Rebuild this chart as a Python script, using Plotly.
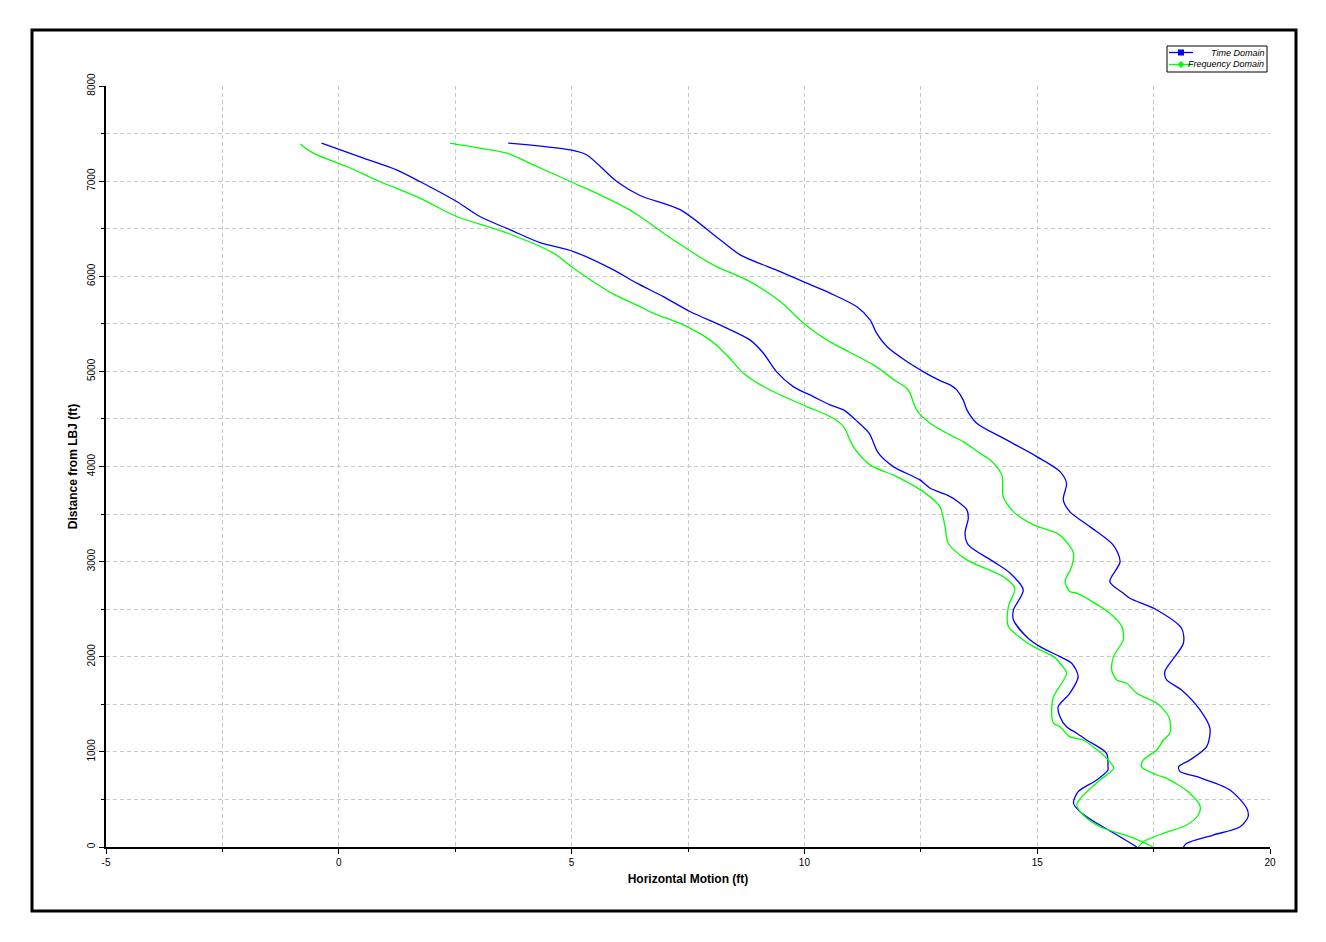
import plotly.graph_objects as go

# Time Domain - lower envelope
td_low_y = [7400, 7242, 7119, 6996, 6786, 6628, 6488, 6354, 6260, 6067, 5927, 5786, 5629, 5471, 5331, 5191,
            4998, 4840, 4735, 4648, 4595, 4490, 4350, 4140, 3999, 3859, 3772, 3701, 3630, 3544, 3456, 3299,
            3176, 3000, 2878, 2702, 2492, 2387, 2211, 2106, 2001, 1932, 1791, 1616, 1475, 1370, 1265, 1196,
            1125, 985, 844, 810, 705, 582, 460, 371, 249, 108, 0]
td_low_x = [-0.37, 0.53, 1.24, 1.74, 2.53, 3.03, 3.68, 4.32, 5.04, 5.90, 6.40, 6.97, 7.54, 8.26, 8.83, 9.12,
            9.40, 9.76, 10.19, 10.55, 10.84, 11.10, 11.39, 11.59, 11.91, 12.48, 12.70, 13.06, 13.30, 13.49, 13.52, 13.45,
            13.52, 14.06, 14.42, 14.70, 14.49, 14.49, 14.77, 15.06, 15.49, 15.74, 15.88, 15.70, 15.45, 15.49, 15.63, 15.85,
            16.06, 16.49, 16.52, 16.52, 16.28, 15.88, 15.78, 15.92, 16.28, 16.78, 17.14]

# Time Domain - upper envelope
td_up_y = [7400, 7329, 7277, 6996, 6849, 6700, 6383, 6225, 6049, 5927, 5822, 5681, 5541, 5402, 5261, 5103,
           4998, 4911, 4858, 4805, 4700, 4595, 4455, 4298, 4104, 3946, 3824, 3649, 3526, 3368, 3176, 3000,
           2790, 2668, 2615, 2492, 2300, 2142, 1843, 1756, 1651, 1440, 1248, 1055, 915, 844, 792, 739,
           599, 407, 319, 213, 126, 39, 0]
td_up_x = [3.64, 4.97, 5.32, 5.97, 6.47, 7.33, 8.19, 8.62, 9.48, 10.05, 10.55, 11.12, 11.41, 11.55, 11.77, 12.20,
           12.55, 12.88, 13.13, 13.27, 13.41, 13.49, 13.70, 14.27, 14.99, 15.49, 15.63, 15.56, 15.70, 16.13, 16.63, 16.78,
           16.56, 16.85, 16.99, 17.57, 18.10, 18.14, 17.74, 17.78, 18.10, 18.50, 18.71, 18.64, 18.28, 18.04, 18.07, 18.43,
           19.14, 19.50, 19.53, 19.36, 18.78, 18.21, 18.14]

# Frequency Domain - lower envelope
fd_low_y = [7390, 7294, 7154, 6996, 6821, 6628, 6470, 6243, 6085, 5812, 5681, 5612, 5489, 5331, 5173, 4981,
            4823, 4630, 4525, 4420, 4209, 4017, 3894, 3736, 3578, 3368, 3193, 3018, 2842, 2720, 2527, 2317,
            2177, 2106, 2001, 1932, 1826, 1580, 1440, 1301, 1265, 1160, 1125, 933, 828, 705, 529, 442,
            336, 213, 108, 0]
fd_low_x = [-0.83, -0.55, 0.17, 0.88, 1.74, 2.53, 3.53, 4.61, 5.04, 5.90, 6.47, 6.75, 7.40, 7.97, 8.33, 8.69,
            9.19, 10.05, 10.55, 10.84, 11.05, 11.41, 11.98, 12.55, 12.91, 13.02, 13.09, 13.49, 14.27, 14.52, 14.38, 14.38,
            14.70, 14.92, 15.35, 15.49, 15.63, 15.35, 15.31, 15.35, 15.49, 15.70, 15.99, 16.49, 16.64, 16.35, 15.96, 15.85,
            15.99, 16.35, 16.99, 17.49]

# Frequency Domain - upper envelope
fd_up_y = [7400, 7347, 7294, 7171, 6996, 6856, 6716, 6628, 6383, 6120, 5944, 5734, 5507, 5331, 5068, 4893,
           4823, 4771, 4595, 4455, 4314, 4262, 4140, 4069, 3912, 3684, 3526, 3386, 3299, 3246, 3088, 2947,
           2790, 2685, 2668, 2457, 2317, 2247, 2177, 2001, 1861, 1756, 1721, 1616, 1511, 1406, 1335, 1196,
           1125, 1020, 915, 844, 757, 722, 565, 424, 336, 231, 144, 56, 0]
fd_up_x = [2.39, 3.03, 3.61, 4.18, 4.97, 5.61, 6.18, 6.47, 7.18, 8.04, 8.83, 9.48, 9.98, 10.48, 11.48, 11.98,
           12.20, 12.27, 12.41, 12.70, 13.20, 13.41, 13.77, 13.99, 14.24, 14.27, 14.49, 14.92, 15.42, 15.56, 15.78, 15.74,
           15.60, 15.70, 15.85, 16.56, 16.82, 16.85, 16.85, 16.64, 16.60, 16.71, 16.92, 17.14, 17.57, 17.78, 17.85, 17.85,
           17.71, 17.57, 17.28, 17.24, 17.57, 17.78, 18.28, 18.50, 18.46, 18.21, 17.71, 17.28, 17.17]

series_names = ["Time Domain", "Frequency Domain"]
x_tick_vals = [-5, 0, 5, 10, 15, 20]
y_tick_vals = [0, 1000, 2000, 3000, 4000, 5000, 6000, 7000, 8000]

BLUE = "#0000ff"
GREEN = "#00ff00"
GRID = "#c8c8c8"

fig = go.Figure()

fig.add_trace(go.Scatter(x=td_low_x + [None] + td_up_x, y=td_low_y + [None] + td_up_y, name=series_names[0],
                         mode="lines", line=dict(color=BLUE, width=1.3, shape="spline", smoothing=0.8),
                         showlegend=False, connectgaps=False))
fig.add_trace(go.Scatter(x=fd_low_x + [None] + fd_up_x, y=fd_low_y + [None] + fd_up_y, name=series_names[1],
                         mode="lines", line=dict(color=GREEN, width=1.3, shape="spline", smoothing=0.8),
                         showlegend=False, connectgaps=False))

axis_font = dict(family="Arial, Liberation Sans, sans-serif", size=10, color="#000000")
title_font = dict(family="Arial, Liberation Sans, sans-serif", size=12, color="#000000", weight="bold")

fig.update_xaxes(range=[-5, 20], tickmode="array", tickvals=x_tick_vals,
                 ticktext=[str(v) for v in x_tick_vals],
                 showline=True, linecolor="black", linewidth=2, mirror=False,
                 ticks="outside", ticklen=5, tickwidth=1, tickcolor="black",
                 showgrid=True, gridcolor=GRID, gridwidth=1, griddash="4px,3px",
                 minor=dict(dtick=2.5, tick0=-5, ticks="outside", ticklen=3, tickcolor="black",
                            showgrid=True, gridcolor=GRID, griddash="4px,3px"),
                 zeroline=False, tickfont=axis_font,
                 title=dict(text="Horizontal Motion (ft)", font=title_font, standoff=8))
fig.update_yaxes(range=[0, 8000], tickmode="array", tickvals=y_tick_vals,
                 ticktext=[str(v) for v in y_tick_vals], tickangle=-90,
                 showline=True, linecolor="black", linewidth=2, mirror=False,
                 ticks="outside", ticklen=5, tickwidth=1, tickcolor="black",
                 showgrid=True, gridcolor=GRID, gridwidth=1, griddash="4px,3px",
                 minor=dict(dtick=500, tick0=0, ticks="outside", ticklen=3, tickcolor="black",
                            showgrid=True, gridcolor=GRID, griddash="4px,3px"),
                 zeroline=False, tickfont=axis_font,
                 title=dict(text="Distance from LBJ (ft)", font=title_font, standoff=6))

# helpers: convert screen pixels of the plot frame to paper coordinates
PX0, PX1, PY0, PY1 = 106, 1270, 847, 86
def px(v):
    return (v - PX0) / (PX1 - PX0)
def py(v):
    return (PY0 - v) / (PY0 - PY1)

shapes = [dict(type="rect", xref="paper", yref="paper",
               x0=px(32), x1=px(1296), y0=py(911), y1=py(30),
               line=dict(color="black", width=3), fillcolor="rgba(0,0,0,0)", layer="below")]

# compact legend, drawn like the original (box, line + marker, right-aligned italic text)
shapes.append(dict(type="rect", xref="paper", yref="paper",
                   x0=px(1167), x1=px(1267), y0=py(72), y1=py(46),
                   line=dict(color="black", width=1), fillcolor="white", layer="above"))
annotations = []
legend_rows = [(52.5, BLUE, "square"), (64.5, GREEN, "diamond")]
for (row_y, col, sym), name in zip(legend_rows, series_names):
    shapes.append(dict(type="line", xref="paper", yref="paper",
                       x0=px(1169), x1=px(1193), y0=py(row_y), y1=py(row_y),
                       line=dict(color=col, width=1.3), layer="above"))
    cx, cy = 1181, row_y
    if sym == "square":
        shapes.append(dict(type="rect", xref="paper", yref="paper",
                           x0=px(cx - 3), x1=px(cx + 3), y0=py(cy + 3), y1=py(cy - 3),
                           line=dict(color=col, width=0), fillcolor=col, layer="above"))
    else:
        path = (f"M {px(cx - 3.5)} {py(cy)} L {px(cx)} {py(cy - 3.5)} "
                f"L {px(cx + 3.5)} {py(cy)} L {px(cx)} {py(cy + 3.5)} Z")
        shapes.append(dict(type="path", xref="paper", yref="paper", path=path,
                           line=dict(color=col, width=0), fillcolor=col, layer="above"))
    annotations.append(dict(xref="paper", yref="paper", x=px(1266), y=py(row_y),
                            xanchor="right", yanchor="middle", showarrow=False, text=name,
                            font=dict(family="Arial, Liberation Sans, sans-serif", size=9,
                                      color="black", style="italic")))

# page body has an 8px margin, so the figure is offset by 8px
fig.update_layout(
    width=1310, height=926,
    margin=dict(l=98, r=48, t=78, b=87),
    paper_bgcolor="white", plot_bgcolor="white",
    showlegend=False,
    shapes=shapes,
    annotations=annotations,
)

fig.write_html("out.html")
